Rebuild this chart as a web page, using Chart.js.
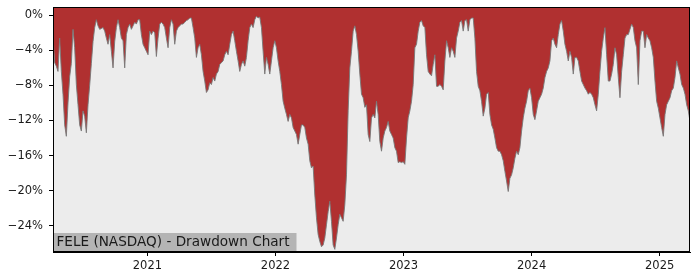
<!DOCTYPE html>
<html>
<head>
<meta charset="utf-8">
<script src="https://cdn.jsdelivr.net/npm/chart.js@4/dist/chart.umd.min.js"></script>
<style>
  html, body { margin: 0; padding: 0; background: #fff; }
</style>
</head>
<body>
<canvas id="myChart" width="700" height="280"></canvas>
<script>
// drawdown in %, sampled every ~4.75 days starting early April 2020
var startYear = 2020.263;
var stepYears = 0.0130208;
var drawdown = [
  -2.4, -5.4, -5.8, -6.4, -2.6, -6.4, -9.0, -12.5, -13.8, -10.0,
  -7.0, -5.5, -1.6, -3.7, -7.9, -10.2, -12.5, -13.2, -10.9, -11.5,
  -13.4, -10.2, -8.0, -5.5, -3.0, -1.4, -0.5, -1.2, -1.6, -1.5,
  -1.4, -1.8, -2.6, -3.3, -2.2, -4.1, -6.0, -3.0, -1.4, -0.5,
  -1.4, -2.6, -2.9, -6.0, -2.2, -1.4, -1.0, -1.6, -1.2, -0.8,
  -1.0, -0.5, -0.5, -2.2, -3.3, -3.7, -4.1, -4.5, -1.8, -2.2,
  -1.8, -2.0, -4.7, -2.6, -1.0, -0.8, -1.0, -1.4, -2.6, -3.7,
  -1.4, -0.5, -1.0, -3.3, -1.8, -1.4, -1.2, -1.0, -1.0, -0.8,
  -0.6, -0.5, -0.3, -0.3, -1.4, -2.6, -4.8, -3.7, -3.3, -4.5,
  -6.4, -7.5, -8.8, -8.5, -7.7, -7.9, -7.1, -7.5, -6.7, -6.4,
  -5.6, -5.4, -5.2, -4.5, -4.1, -4.5, -3.3, -2.2, -1.8, -2.9,
  -4.1, -5.2, -6.4, -5.6, -5.2, -5.8, -4.8, -2.9, -1.4, -1.0,
  -1.4, -0.5, -0.1, -0.3, -0.2, -1.4, -4.1, -6.7, -4.8, -5.6,
  -6.7, -5.2, -3.7, -2.9, -3.7, -5.2, -6.4, -7.9, -9.8, -10.6,
  -11.3, -12.1, -11.3, -11.7, -12.8, -13.2, -13.6, -14.7, -13.6, -12.5,
  -12.5, -12.8, -14.0, -14.7, -16.6, -17.4, -17.2, -20.5, -23.1, -25.0,
  -25.8, -26.4, -26.2, -25.4, -23.9, -22.4, -21.2, -23.5, -26.2, -26.7,
  -25.4, -23.9, -22.7, -23.1, -23.5, -21.6, -18.2, -10.9, -6.0, -4.1,
  -1.8, -1.2, -2.2, -4.1, -6.7, -9.0, -9.4, -10.5, -10.2, -13.6,
  -14.4, -11.7, -11.3, -11.7, -9.8, -11.3, -14.4, -15.5, -14.0, -13.2,
  -12.8, -12.1, -13.2, -13.6, -14.0, -15.1, -15.5, -16.8, -16.7, -16.8,
  -16.7, -17.0, -14.0, -11.7, -10.9, -9.8, -7.9, -3.7, -3.3, -1.8,
  -0.8, -0.6, -1.2, -1.4, -4.5, -6.4, -6.7, -6.9, -5.6, -4.5,
  -8.1, -8.1, -7.9, -8.1, -8.5, -5.2, -2.9, -3.7, -4.8, -3.7,
  -4.1, -4.8, -2.6, -1.8, -0.8, -0.6, -1.8, -0.6, -0.5, -1.8,
  -0.5, -0.3, -0.3, -2.6, -6.4, -8.1, -8.6, -9.8, -11.5, -10.6,
  -9.0, -8.8, -11.3, -12.5, -13.0, -14.0, -15.1, -15.5, -15.5, -15.9,
  -16.6, -17.8, -18.9, -20.1, -18.6, -18.2, -17.4, -16.3, -15.5, -15.9,
  -15.1, -13.2, -11.7, -10.6, -9.8, -8.6, -8.3, -9.4, -11.3, -11.9,
  -10.9, -9.8, -9.4, -9.0, -8.3, -7.1, -6.4, -6.0, -5.2, -2.9,
  -2.6, -3.3, -3.7, -2.2, -1.0, -0.6, -1.8, -3.3, -4.1, -5.2,
  -4.1, -4.8, -6.7, -4.8, -4.8, -5.2, -6.4, -7.5, -7.9, -8.3,
  -8.6, -9.0, -8.8, -9.0, -9.4, -10.2, -10.9, -9.0, -6.4, -4.1,
  -2.6, -1.4, -4.5, -7.5, -7.5, -6.7, -5.6, -3.7, -4.5, -7.1,
  -9.4, -6.4, -4.5, -2.6, -2.2, -2.2, -1.6, -1.0, -1.4, -2.9,
  -3.7, -7.9, -2.9, -1.8, -1.8, -3.7, -2.2, -2.6, -2.9, -3.7,
  -4.8, -7.5, -9.8, -10.6, -11.7, -12.8, -13.8, -11.3, -10.2, -9.8,
  -9.4, -8.6, -8.3, -7.1, -5.2, -6.0, -6.7, -7.9, -8.3, -9.0,
  -10.2, -10.9, -12.1
];
var yearTicks = [2021, 2022, 2023, 2024, 2025];
var pctTicks = [0, -4, -8, -12, -16, -20, -24];
var chartLabel = 'FELE (NASDAQ) - Drawdown Chart';

var points = drawdown.map(function (v, i) {
    return { x: startYear + i * stepYears, y: v };
});
var lastX = points[points.length - 1].x;

var tickFont = { family: 'DejaVu Sans', size: 11.5 };

var plotBox = {
    id: 'plotBox',
    beforeDraw: function (chart) {
        var a = chart.chartArea, ctx = chart.ctx;
        ctx.save();
        ctx.fillStyle = '#ececec';
        ctx.fillRect(a.left, a.top, a.right - a.left, a.bottom - a.top);
        ctx.restore();
    },
    afterDraw: function (chart) {
        var a = chart.chartArea, ctx = chart.ctx;
        ctx.save();
        // label box
        ctx.fillStyle = '#b4b4b4';
        ctx.fillRect(a.left, a.bottom - 19, 243.5, 19);
        ctx.fillStyle = '#1a1a1a';
        ctx.font = '13.6px "DejaVu Sans"';
        ctx.textBaseline = 'middle';
        ctx.fillText(chartLabel, a.left + 3.5, a.bottom - 9.5);
        // frame
        ctx.strokeStyle = '#000';
        ctx.lineWidth = 1;
        ctx.strokeRect(Math.round(a.left) + 0.5, Math.round(a.top) + 0.5,
            Math.round(a.right - a.left) - 1, Math.round(a.bottom - a.top) - 1);
        ctx.restore();
    }
};

var ctx = document.getElementById('myChart').getContext('2d');
var myChart = new Chart(ctx, {
    type: 'line',
    data: {
        datasets: [{
            label: 'Drawdown',
            data: points,
            backgroundColor: '#b03030',
            borderColor: 'rgba(120,120,120,0.9)',
            borderWidth: 1,
            pointRadius: 0,
            tension: 0,
            fill: 'end'
        }]
    },
    options: {
        responsive: false,
        animation: false,
        layout: { padding: { top: 7, right: 10, left: 0, bottom: 0 } },
        plugins: {
            legend: { display: false },
            tooltip: { enabled: false }
        },
        scales: {
            x: {
                type: 'linear',
                min: startYear,
                max: lastX,
                afterBuildTicks: function (s) {
                    s.ticks = yearTicks.map(function (v) { return { value: v }; });
                },
                afterFit: function (s) { s.height = 28; s.paddingLeft = 0; s.paddingRight = 0; },
                ticks: {
                    color: '#1a1a1a',
                    font: tickFont,
                    padding: 3,
                    maxRotation: 0,
                    callback: function (v) { return String(v); }
                },
                grid: { drawOnChartArea: false, drawTicks: true, tickLength: 4, color: '#000' },
                border: { display: true, color: '#000' }
            },
            y: {
                min: -27,
                max: 0.95,
                afterBuildTicks: function (s) {
                    s.ticks = pctTicks.map(function (v) { return { value: v }; });
                },
                afterFit: function (s) { s.width = 53; s.paddingTop = 0; s.paddingBottom = 0; },
                ticks: {
                    color: '#1a1a1a',
                    font: tickFont,
                    padding: 6,
                    callback: function (v) {
                        return (v < 0 ? '\u2212' : '') + Math.abs(v) + '%';
                    }
                },
                grid: { drawOnChartArea: false, drawTicks: true, tickLength: 4, color: '#000' },
                border: { display: true, color: '#000' }
            }
        }
    },
    plugins: [plotBox]
});
</script>
</body>
</html>
